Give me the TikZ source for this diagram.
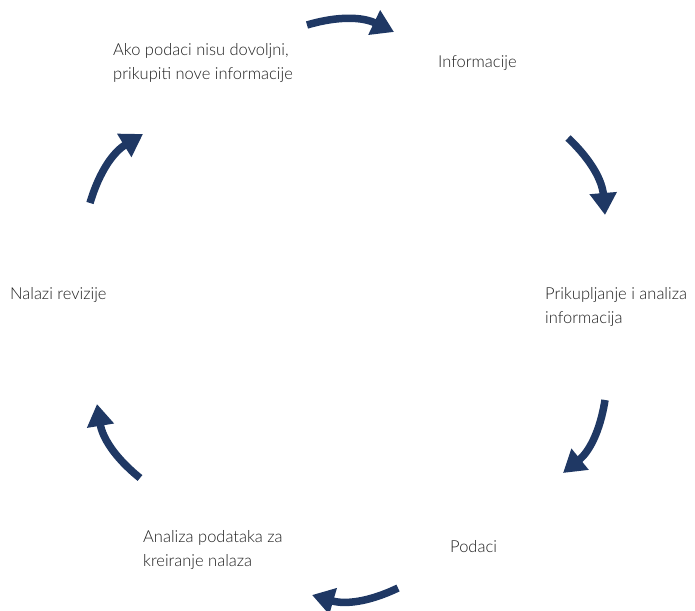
\documentclass[tikz,border=0pt]{standalone}
\usepackage{fontspec}
\setmainfont{Lato Light}
\usetikzlibrary{arrows.meta}
\definecolor{arrowblue}{RGB}{31,56,100}
\definecolor{txt}{RGB}{30,30,30}
\tikzset{
  lbl/.style={anchor=west, inner sep=0pt, align=left, text=txt,
    font=\fontsize{16.5}{24}\selectfont},
  cyc/.style={draw=arrowblue, line width=7.5pt,
    -{Triangle[length=22pt,width=26pt]}, bend left=21}
}
\begin{document}
\begin{tikzpicture}[x=1pt,y=1pt]
\useasboundingbox (0,0) rectangle (695,610);
\node[lbl] (info) at (438,547) {Informacije};
\node[lbl] (ako) at (113,547) {Ako podaci nisu dovoljni,\\prikupiti nove informacije};
\node[lbl] (prik) at (545,303) {Prikupljanje i analiza\\informacija};
\node[lbl] (pod) at (450,63) {Podaci};
\node[lbl] (anal) at (143,59.5) {Analiza podataka za\\kreiranje nalaza};
\node[lbl] (nal) at (10,315) {Nalazi revizije};
% arrow tails and tips
\coordinate (t1) at (307,585); \coordinate (e1) at (394,578);
\coordinate (t2) at (568,472); \coordinate (e2) at (605,395);
\coordinate (t3) at (605,210); \coordinate (e3) at (563,137);
\coordinate (t4) at (398,22);  \coordinate (e4) at (312,15);
\coordinate (t5) at (140,132); \coordinate (e5) at (97,206);
\coordinate (t6) at (90,407);  \coordinate (e6) at (143,476);
\draw[cyc] (t1) to (e1);
\draw[cyc] (t2) to (e2);
\draw[cyc] (t3) to (e3);
\draw[cyc] (t4) to (e4);
\draw[cyc] (t5) to (e5);
\draw[cyc] (t6) to (e6);
\end{tikzpicture}
\end{document}
